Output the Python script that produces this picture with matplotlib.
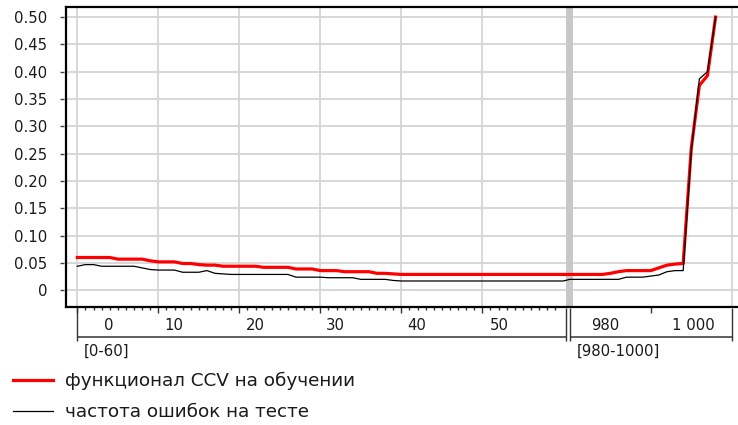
import numpy as np
import matplotlib
matplotlib.use('Agg')
import matplotlib.pyplot as plt
from matplotlib.transforms import blended_transform_factory

plt.rcParams['font.family'] = ['DejaVu Sans']

# --- data -----------------------------------------------------------------
x_left = list(range(0, 61))          # segment [0-60]
x_right = list(range(980, 999))      # segment [980-1000]

ccv_left = [0.060, 0.060, 0.060, 0.060, 0.060,
            0.057, 0.057, 0.057, 0.057, 0.054,
            0.052, 0.052, 0.052, 0.049, 0.049,
            0.047, 0.046, 0.046, 0.044, 0.044,
            0.044, 0.044, 0.044, 0.042, 0.042,
            0.042, 0.042, 0.039, 0.039, 0.039,
            0.036, 0.036, 0.036, 0.034, 0.034,
            0.034, 0.034, 0.031, 0.031, 0.030,
            0.029, 0.029, 0.029, 0.029, 0.029,
            0.029, 0.029, 0.029, 0.029, 0.029,
            0.029, 0.029, 0.029, 0.029, 0.029,
            0.029, 0.029, 0.029, 0.029, 0.029,
            0.029]
test_left = [0.044, 0.047, 0.047, 0.044, 0.044,
             0.044, 0.044, 0.044, 0.041, 0.038,
             0.037, 0.037, 0.037, 0.033, 0.033,
             0.033, 0.036, 0.031, 0.030, 0.029,
             0.029, 0.029, 0.029, 0.029, 0.029,
             0.029, 0.029, 0.024, 0.024, 0.024,
             0.024, 0.023, 0.023, 0.023, 0.023,
             0.020, 0.020, 0.020, 0.020, 0.018,
             0.017, 0.017, 0.017, 0.017, 0.017,
             0.017, 0.017, 0.017, 0.017, 0.017,
             0.017, 0.017, 0.017, 0.017, 0.017,
             0.017, 0.017, 0.017, 0.017, 0.017,
             0.017]
ccv_right = [0.029, 0.029, 0.029, 0.029, 0.029,
             0.031, 0.034, 0.036, 0.036, 0.036,
             0.036, 0.041, 0.046, 0.048, 0.049,
             0.260, 0.375, 0.393, 0.500]
test_right = [0.020, 0.020, 0.020, 0.020, 0.020,
              0.020, 0.020, 0.024, 0.024, 0.024,
              0.026, 0.028, 0.034, 0.036, 0.036,
              0.255, 0.387, 0.400, 0.500]

y_ticks = [0.0, 0.05, 0.10, 0.15, 0.20, 0.25, 0.30, 0.35, 0.40, 0.45, 0.50]
y_labels = ['0', '0.05', '0.10', '0.15', '0.20', '0.25', '0.30', '0.35',
            '0.40', '0.45', '0.50']
x_tick_labels = ['0', '10', '20', '30', '40', '50', '980', '1 000']
segment_labels = ['[0-60]', '[980-1000]']
legend_labels = ['функционал CCV на обучении', 'частота ошибок на тесте']

# --- broken axis mapping --------------------------------------------------
RIGHT_START = 60.8          # display position of x=980
BREAK = (60.35, 61.2)


def to_disp(x):
    return x if x < 980 else x - 980 + RIGHT_START


d_all = [to_disp(v) for v in x_left + x_right]
ccv_all = ccv_left + ccv_right
test_all = test_left + test_right

W, H = 738, 425
fx = lambda px: px / W
fy = lambda px: 1 - px / H
FS = 10.7
TXT = '#1a1a1a'

fig = plt.figure(figsize=(7.38, 4.25), dpi=100)
ax = fig.add_axes([fx(66), fy(307), fx(745) - fx(66), fy(6.7) - fy(307)])
xlim = ((66 - 77.3) / 8.1, (745 - 77.3) / 8.1)
ax.set_xlim(*xlim)
ax.set_ylim(-0.0306, 0.519)

grid_c = '#d4d4d4'
for y in y_ticks:
    ax.axhline(y, color=grid_c, lw=1.3, zorder=0)
for xv in [0, 10, 20, 30, 40, 50, 1000]:
    ax.axvline(to_disp(xv), color=grid_c, lw=1.3, zorder=0)
ax.axvspan(BREAK[0], BREAK[1], color='#c8c8c8', lw=0, zorder=1)

line_ccv, = ax.plot(d_all, ccv_all, color='#ff0000', lw=2.3, zorder=3,
                    solid_joinstyle='round')
line_test, = ax.plot(d_all, test_all, color='black', lw=0.9, zorder=4)

for s in ['left', 'top', 'bottom']:
    ax.spines[s].set_linewidth(1.6)
    ax.spines[s].set_color('black')
ax.spines['right'].set_visible(False)

ax.set_yticks(y_ticks)
ax.set_yticklabels(y_labels)
ax.tick_params(axis='y', length=0, pad=13.5, labelsize=FS, labelcolor=TXT)
trans = blended_transform_factory(fig.transFigure, ax.transData)
ax.hlines(y_ticks, fx(60), fx(63.5), transform=trans, clip_on=False,
          color='#444444', lw=1)

ax.set_xticks([0, 10, 20, 30, 40, 50, to_disp(990)])
ax.set_xticks([v for v in range(1, 60) if v % 10], minor=True)
ax.tick_params(axis='x', which='major', direction='out', length=4.5,
               width=1, color='#333333', labelbottom=False)
ax.tick_params(axis='x', which='minor', direction='out', length=2,
               width=1, color='#333333')

# --- axis band under the plot ---------------------------------------------
axb = fig.add_axes([fx(66), fy(362), fx(745) - fx(66), fy(300) - fy(362)])
axb.set_xlim(*xlim)
axb.set_ylim(362, 300)
axb.axis('off')
band_c = '#333333'
edges = [to_disp(0), BREAK[0], to_disp(980), to_disp(1000)]
axb.vlines(edges, 308, 341, color=band_c, lw=1)
axb.hlines([337.3, 337.3], [edges[0], edges[2]], [edges[1], edges[3]],
           color=band_c, lw=1.1)
label_pos = [3.83, 11.94, 21.94, 31.9, 41.9, 52.06, 65.15, 76.0]
for p, t in zip(label_pos, x_tick_labels):
    axb.text(p, 325, t, ha='center', va='center', fontsize=FS, color=TXT)
axb.text(0.74, 351.5, segment_labels[0], ha='left', va='center',
         fontsize=FS, color=TXT)
axb.text(61.65, 351.5, segment_labels[1], ha='left', va='center',
         fontsize=FS, color=TXT)

# --- legend ---------------------------------------------------------------
fig.legend([line_ccv, line_test], legend_labels, loc='upper left',
           bbox_to_anchor=(fx(13.3), fy(372)), frameon=False,
           handlelength=2.15, handletextpad=0.66, labelspacing=0.72,
           borderpad=0, borderaxespad=0, fontsize=13.2, labelcolor=TXT)

fig.savefig('out.png', dpi=100)
